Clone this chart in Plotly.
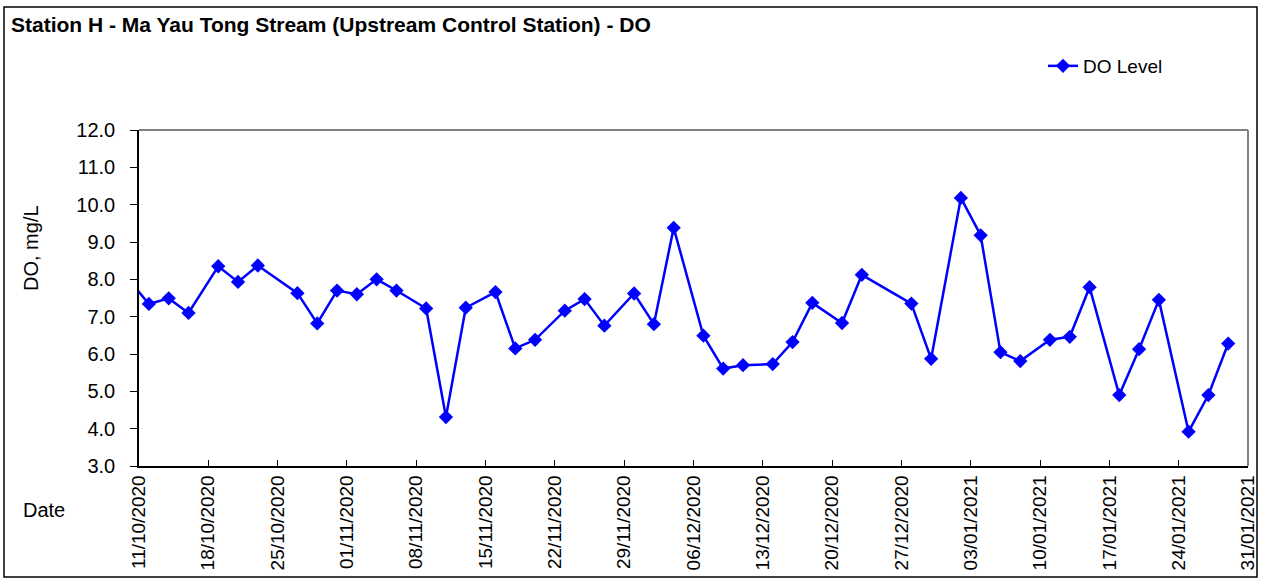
import plotly.graph_objects as go
import pandas as pd

# ---- data ----
dates = [
    "2020-10-10", "2020-10-12", "2020-10-14", "2020-10-16", "2020-10-19", "2020-10-21",
    "2020-10-23", "2020-10-27", "2020-10-29", "2020-10-31", "2020-11-02", "2020-11-04",
    "2020-11-06", "2020-11-09", "2020-11-11", "2020-11-13", "2020-11-16", "2020-11-18",
    "2020-11-20", "2020-11-23", "2020-11-25", "2020-11-27", "2020-11-30", "2020-12-02",
    "2020-12-04", "2020-12-07", "2020-12-09", "2020-12-11", "2020-12-14", "2020-12-16",
    "2020-12-18", "2020-12-21", "2020-12-23", "2020-12-28", "2020-12-30", "2021-01-02",
    "2021-01-04", "2021-01-06", "2021-01-08", "2021-01-11", "2021-01-13", "2021-01-15",
    "2021-01-18", "2021-01-20", "2021-01-22", "2021-01-25", "2021-01-27", "2021-01-29",
]
do_level = [
    7.98, 7.34, 7.49, 7.10, 8.35, 7.93,
    8.37, 7.63, 6.82, 7.70, 7.60, 8.00,
    7.70, 7.22, 4.31, 7.24, 7.66, 6.15,
    6.38, 7.16, 7.47, 6.76, 7.62, 6.80,
    9.38, 6.49, 5.61, 5.70, 5.73, 6.32,
    7.37, 6.83, 8.12, 7.35, 5.87, 10.18,
    9.18, 6.05, 5.81, 6.38, 6.46, 7.79,
    4.90, 6.13, 7.45, 3.92, 4.90, 6.28,
]
tick_dates = pd.date_range("2020-10-11", "2021-01-31", freq="7D")
tick_labels = [d.strftime("%d/%m/%Y") for d in tick_dates]
y_ticks = [3, 4, 5, 6, 7, 8, 9, 10, 11, 12]

FONT = "Liberation Sans, Arial, sans-serif"

fig = go.Figure()
fig.add_trace(go.Scatter(
    x=dates, y=do_level, mode="lines+markers", name="DO Level",
    line=dict(color="#0000FF", width=2.5),
    marker=dict(symbol="diamond", size=11, color="#0000FF"),
    cliponaxis=True,
))

W, H = 1261, 579
L, R, T, B = 139, 13, 130, 113
pw, ph = W - L - R, H - T - B

def px_x(x):
    return (x - L) / pw

def px_y(y):
    return (H - B - y) / ph

fig.update_layout(
    width=W, height=H, autosize=False,
    margin=dict(l=L, r=R, t=T, b=B, autoexpand=False),
    paper_bgcolor="white", plot_bgcolor="white",
    font=dict(family=FONT, size=19, color="black"),
    title=dict(text="<b>Station H - Ma Yau Tong Stream (Upstream Control Station) - DO</b>",
               x=11 / W, xanchor="left", xref="container",
               y=1 - 25 / H, yanchor="middle", yref="container",
               font=dict(family=FONT, size=21, color="black")),
    showlegend=True,
    legend=dict(x=px_x(1043), y=px_y(66), xanchor="left", yanchor="middle",
                bgcolor="rgba(0,0,0,0)", font=dict(size=19)),
    xaxis=dict(
        type="date", range=["2020-10-11", "2021-01-31"], automargin=False,
        tickvals=list(tick_dates), ticktext=tick_labels, tickangle=-90,
        ticks="inside", ticklen=6, tickcolor="black",
        showline=True, linecolor="black", linewidth=1.5,
        showgrid=False, zeroline=False,
        tickfont=dict(size=19),
    ),
    yaxis=dict(
        range=[3, 12], automargin=False,
        tickvals=y_ticks, ticktext=[f"{v:.1f}" for v in y_ticks],
        ticks="outside", ticklen=7, tickcolor="black",
        showline=True, linecolor="black", linewidth=1.5,
        showgrid=False, zeroline=False,
        tickfont=dict(size=20), ticklabelstandoff=11,
    ),
)

# plot-area border (top/right grey)
fig.add_shape(type="line", xref="paper", yref="paper", x0=0, x1=1, y0=1, y1=1,
              line=dict(color="#808080", width=2))
fig.add_shape(type="line", xref="paper", yref="paper", x0=1, x1=1, y0=0, y1=1,
              line=dict(color="#808080", width=2))
# outer chart border
fig.add_shape(type="rect", xref="paper", yref="paper",
              x0=px_x(4), x1=px_x(1257), y0=px_y(577), y1=px_y(7),
              line=dict(color="black", width=1.5), layer="below")

fig.add_annotation(text="DO, mg/L", xref="paper", yref="paper",
                   x=px_x(31), y=px_y(248), textangle=-90, showarrow=False,
                   xanchor="center", yanchor="middle", font=dict(size=20))
fig.add_annotation(text="Date", xref="paper", yref="paper",
                   x=px_x(44), y=px_y(510), showarrow=False,
                   xanchor="center", yanchor="middle", font=dict(size=20))

fig.write_html(
    "out.html",
    config={"displayModeBar": False, "responsive": False},
    post_script=("document.body.style.margin='0';document.body.style.padding='0';"
                 "document.body.style.overflow='hidden';"
                 "document.documentElement.style.overflow='hidden';"),
)
